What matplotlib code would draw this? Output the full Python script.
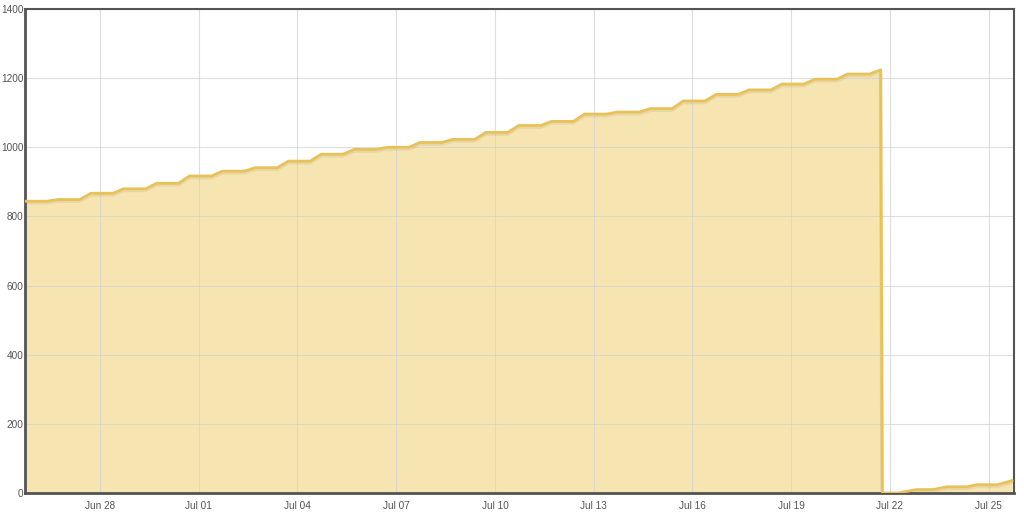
import numpy as np
import matplotlib.pyplot as plt
import matplotlib.dates as mdates
from datetime import datetime, timedelta

# daily levels before the reset (one per day, starting Jun 25 ~17:17)
start = datetime(2015, 6, 25, 17, 17)
levels = [844, 849, 867, 880, 896, 917, 931, 941, 960, 980, 994, 1000, 1014,
          1023, 1043, 1063, 1075, 1096, 1102, 1112, 1134, 1153, 1166, 1183,
          1197, 1212, 1224]

# after the reset (offset in days from Jul 22 00:00, value)
after_days = [-0.23, 0.24, 0.82, 1.31, 1.73, 2.34, 2.64, 3.28, 3.71]
after_vals = [0, 0, 10, 10, 18, 18, 24, 24, 36]

y_ticks = [0, 200, 400, 600, 800, 1000, 1200, 1400]

# build the line: hold each level for 2/3 of a day, then ramp to the next
xs, ys = [], []
for k, v in enumerate(levels):
    xs.append(start + timedelta(days=k))
    ys.append(v)
    if k < len(levels) - 1:
        xs.append(start + timedelta(days=k + 2 / 3))
        ys.append(v)
jul22 = datetime(2015, 7, 22)
for d, v in zip(after_days, after_vals):
    xs.append(jul22 + timedelta(days=d))
    ys.append(v)

xn = mdates.date2num(xs)
ys = np.array(ys, dtype=float)

plt.rcParams['font.family'] = ['Liberation Sans', 'DejaVu Sans']
fig = plt.figure(figsize=(10.24, 5.16), dpi=100)
ax = fig.add_axes([25 / 1024, 23 / 516, 989 / 1024, 484 / 516])

line_c = '#e9c257'
fill_c = '#f7e5b1'
ax.fill_between(xn, 0, ys, color=fill_c, linewidth=0, zorder=1)
ax.plot(xn, ys - 4, color='black', alpha=0.06, lw=3, zorder=2,
        solid_joinstyle='round')
ax.plot(xn, ys, color=line_c, lw=2, zorder=3, solid_joinstyle='round')

ax.set_ylim(0, 1400)
ax.set_yticks(y_ticks)
ax.set_xlim(mdates.date2num(datetime(2015, 6, 25, 17, 17)),
            mdates.date2num(datetime(2015, 7, 25, 18, 30)))
ax.xaxis.set_major_locator(mdates.DayLocator(bymonthday=[1, 4, 7, 10, 13, 16, 19, 22, 25, 28]))
ax.xaxis.set_major_formatter(mdates.DateFormatter('%b %d'))

ax.grid(True, color='#d2d2d2', lw=0.8, zorder=0)
for gl in ax.get_xgridlines() + ax.get_ygridlines():
    gl.set_zorder(1.5)
    gl.set_alpha(0.7)
ax.tick_params(length=0, labelsize=7.2, colors='#545454', pad=6)
ax.tick_params(axis='y', pad=1)
for s in ax.spines.values():
    s.set_color('#545454')
    s.set_linewidth(1.5)
ax.spines['left'].set_linewidth(2)
ax.spines['bottom'].set_linewidth(2)

fig.savefig('out.png', dpi=100)
